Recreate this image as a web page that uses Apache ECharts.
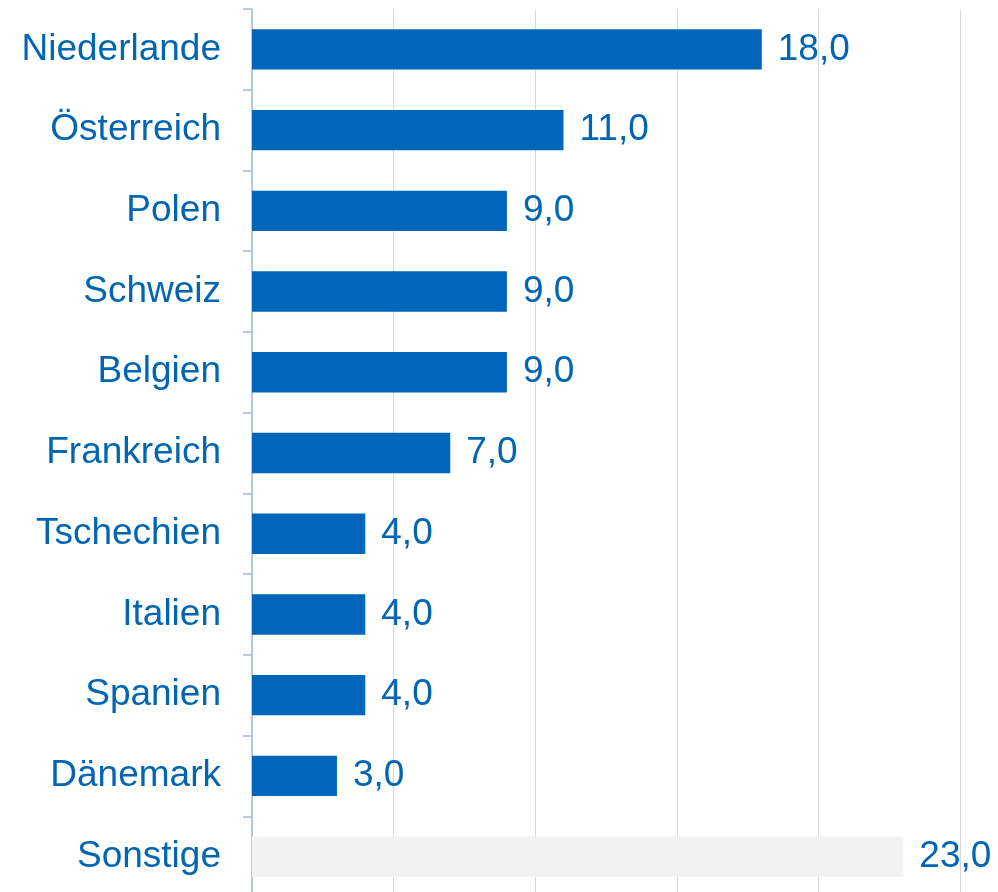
<!DOCTYPE html>
<html><head><meta charset="utf-8">
<script src="https://cdn.jsdelivr.net/npm/echarts@6/dist/echarts.min.js"></script>
<style>html,body{margin:0;padding:0;background:#fff;overflow:hidden}#c{width:998px;height:900px}</style>
</head><body><div id="c"></div>
<script>
const categories = ["Niederlande","Österreich","Polen","Schweiz","Belgien","Frankreich","Tschechien","Italien","Spanien","Dänemark","Sonstige"];
const values = [18,11,9,9,9,7,4,4,4,3,23];
const highlightColor = "#0066b9";
const otherColor = "#f2f2f2";
const chart = echarts.init(document.getElementById('c'), null, {renderer:'canvas'});
chart.setOption({
  animation:false,
  grid:{left:252, width:708, top:9, height:888, containLabel:false},
  xAxis:{type:'value', min:0, max:25, interval:5,
    axisLabel:{show:false}, axisLine:{show:false}, axisTick:{show:false},
    splitLine:{show:true, lineStyle:{color:'#d9d9d9', width:1}}},
  yAxis:{type:'category', inverse:true, data:categories,
    axisLine:{show:true, lineStyle:{color:'#a8b8dc', width:1.5}},
    axisTick:{show:true, length:9, lineStyle:{color:'#a8b8dc', width:1.5}},
    axisLabel:{color:'#0066b3', fontFamily:'Liberation Sans, Arial, sans-serif', fontSize:37, margin:31, padding:[3,0,0,0]}},
  series:[{type:'bar', barWidth:'50%',
    data: values.map((v,i)=>({value:v, itemStyle:{color: categories[i]==='Sonstige'?otherColor:highlightColor}})),
    label:{show:true, position:'right', distance:16, color:'#0066b3', fontFamily:'Liberation Sans, Arial, sans-serif', fontSize:37, padding:[3,0,0,0],
      formatter:p=>p.value.toFixed(1).replace('.',',')}}]
});
</script></body></html>
